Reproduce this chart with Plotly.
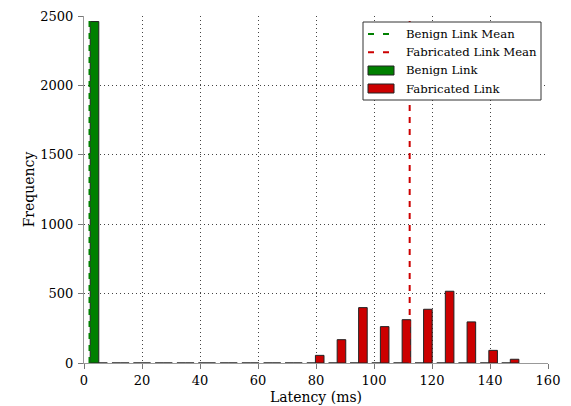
import plotly.graph_objects as go

# Histogram bin centres (ms) and counts
bin_centers = [5.1, 12.6, 20.0, 27.5, 35.0, 42.4, 49.9, 57.4, 64.9, 72.3,
               79.8, 87.3, 94.7, 102.2, 109.7, 117.1, 124.6, 132.1, 139.6, 147.0]
benign_counts = [2460, 0, 0, 0, 0, 0, 0, 0, 0, 0,
                 0, 0, 0, 0, 0, 0, 0, 0, 0, 0]
fabricated_counts = [0, 0, 0, 0, 0, 0, 0, 0, 0, 0,
                     55, 168, 399, 262, 312, 387, 517, 296, 91, 27]
benign_mean = 1.9
fabricated_mean = 112.3

x_ticks = [0, 20, 40, 60, 80, 100, 120, 140, 160]
y_ticks = [0, 500, 1000, 1500, 2000, 2500]

legend_labels = ["Benign Link Mean", "Fabricated Link Mean", "Benign Link", "Fabricated Link"]

GREEN = "#008000"
RED = "#cc0000"
FONT = "DejaVu Serif"

fig = go.Figure()
fig.add_trace(go.Bar(x=bin_centers, y=benign_counts, name="Benign Link",
                     marker=dict(color=GREEN, line=dict(color="#222", width=1))))
fig.add_trace(go.Bar(x=bin_centers, y=fabricated_counts, name="Fabricated Link",
                     marker=dict(color=RED, line=dict(color="#222", width=1))))
fig.add_trace(go.Scatter(x=[benign_mean, benign_mean], y=[0, 2500], mode="lines",
                         name="Benign Link Mean",
                         line=dict(color=GREEN, width=2, dash="6px,6px")))
fig.add_trace(go.Scatter(x=[fabricated_mean, fabricated_mean], y=[0, 2500], mode="lines",
                         name="Fabricated Link Mean",
                         line=dict(color=RED, width=2, dash="6px,6px")))

axis_common = dict(showline=True, linecolor="#999", linewidth=1, mirror=False,
                   ticks="outside", ticklen=5, tickcolor="#777", tickwidth=1,
                   showgrid=True, gridcolor="#444", griddash="1px,3px", gridwidth=1,
                   zeroline=False, automargin=False,
                   tickfont=dict(family=FONT, size=13, color="black"))

# ---- manual legend (paper coordinates) ----
L, T, W, H = 84, 16, 464, 347
def px(x):
    return (x - L) / W
def py(y):
    return (T + H - y) / H

shapes = [
    dict(type="rect", xref="paper", yref="paper", x0=px(363), x1=px(541), y0=py(100), y1=py(22),
         line=dict(color="#333", width=1), fillcolor="white", layer="above"),
    dict(type="line", xref="paper", yref="paper", x0=px(368), x1=px(392), y0=py(34), y1=py(34),
         line=dict(color=GREEN, width=2, dash="6px,9px"), layer="above"),
    dict(type="line", xref="paper", yref="paper", x0=px(368), x1=px(392), y0=py(52.3), y1=py(52.3),
         line=dict(color=RED, width=2, dash="6px,9px"), layer="above"),
    dict(type="rect", xref="paper", yref="paper", x0=px(368), x1=px(394), y0=py(75), y1=py(66),
         line=dict(color="#222", width=1), fillcolor=GREEN, layer="above"),
    dict(type="rect", xref="paper", yref="paper", x0=px(368), x1=px(394), y0=py(93), y1=py(84),
         line=dict(color="#222", width=1), fillcolor=RED, layer="above"),
]
annotations = []
for label, yy in zip(legend_labels, [34, 52.3, 70, 88.7]):
    annotations.append(dict(text=label, xref="paper", yref="paper", x=px(404), y=py(yy),
                            xanchor="left", yanchor="middle", showarrow=False,
                            font=dict(family=FONT, size=11.7, color="black")))

fig.update_layout(
    width=571, height=406,
    margin=dict(l=L, r=571 - L - W, t=T, b=406 - T - H, autoexpand=False),
    paper_bgcolor="white", plot_bgcolor="white",
    barmode="group", bargap=0.2, bargroupgap=0,
    font=dict(family=FONT, size=13, color="black"),
    xaxis=dict(range=[0, 160], tickvals=x_ticks, **axis_common,
               title=dict(text="Latency (ms)", font=dict(family=FONT, size=14), standoff=5)),
    yaxis=dict(range=[0, 2500], tickvals=y_ticks, ticklabelstandoff=2, **axis_common,
               title=dict(text="Frequency", font=dict(family=FONT, size=14), standoff=2)),
    showlegend=False,
    shapes=shapes,
    annotations=annotations,
)

fig.write_html("out.html")
